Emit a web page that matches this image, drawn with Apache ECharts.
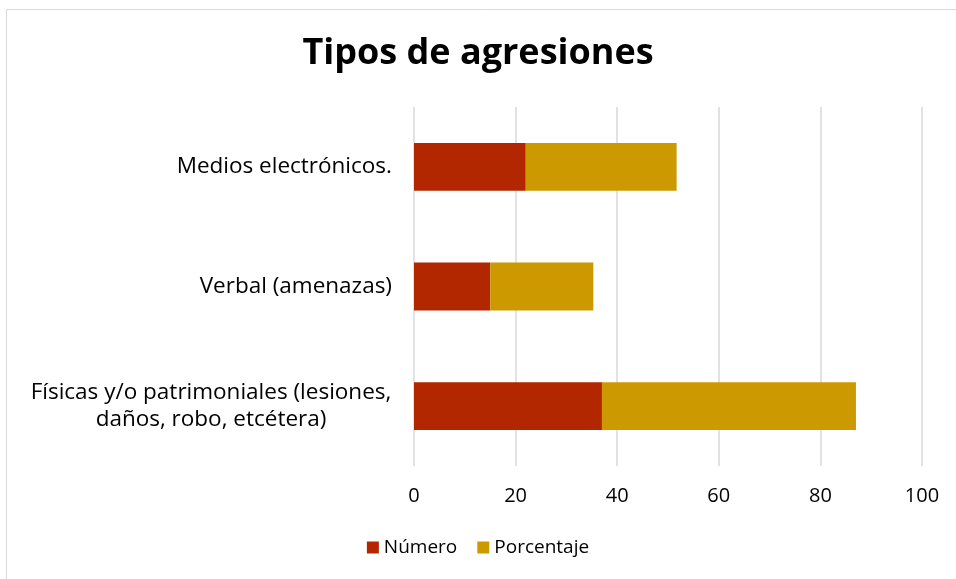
<!DOCTYPE html>
<html>
<head>
<meta charset="utf-8">
<script src="https://cdn.jsdelivr.net/npm/echarts@6/dist/echarts.min.js"></script>
<style>
  html, body { margin: 0; padding: 0; background: #fff; }
  #chart { width: 956px; height: 579px; }
</style>
</head>
<body>
<div id="chart"></div>
<script>
// categories bottom-to-top, as the value axis draws them
const categories = [
  'Físicas y/o patrimoniales (lesiones,\ndaños, robo, etcétera)',
  'Verbal (amenazas)',
  'Medios electrónicos.'
];
const numero = [37, 15, 22];
const porcentaje = [50.0, 20.3, 29.7];
const xTicks = [0, 20, 40, 60, 80, 100];

let chart = echarts.init(document.getElementById('chart'));
const font = '"Open Sans", "Noto Sans", sans-serif';
const option = {
  color: ['#B22600', '#CC9900'],
  textStyle: { fontFamily: font },
  graphic: [{
    type: 'rect',
    shape: { x: 6.5, y: 9.5, width: 960, height: 600 },
    style: { fill: 'none', stroke: '#d9d9d9', lineWidth: 1 },
    silent: true
  }],
  title: {
    text: 'Tipos de agresiones',
    left: 'center',
    top: 31,
    textStyle: { fontFamily: font, fontSize: 36, fontWeight: 'bold', color: '#000' }
  },
  legend: {
    bottom: 17,
    left: 'center',
    itemWidth: 12,
    itemHeight: 12,
    itemGap: 20,
    icon: 'rect',
    textStyle: { fontFamily: font, fontSize: 19, color: '#000' },
    data: ['Número', 'Porcentaje']
  },
  grid: { left: 414, right: 34, top: 107, bottom: 113 },
  xAxis: {
    type: 'value',
    min: xTicks[0],
    max: xTicks[xTicks.length - 1],
    interval: 20,
    axisLine: { show: false },
    axisTick: { show: false },
    axisLabel: { fontFamily: font, fontSize: 20, color: '#000', margin: 20 },
    splitLine: { lineStyle: { color: '#d9d9d9', width: 1.5 } }
  },
  yAxis: {
    type: 'category',
    data: categories,
    axisLine: { show: false },
    axisTick: { show: false },
    axisLabel: {
      fontFamily: font, fontSize: 22.5, color: '#000', margin: 22, align: 'right', lineHeight: 27,
      formatter: function (v) {
        if (v.indexOf('\n') < 0) return v;
        return v.split('\n').map(function (s) { return '{c|' + s + '}'; }).join('\n');
      },
      rich: { c: { width: 362, align: 'center', fontFamily: font, fontSize: 22.5, lineHeight: 27, color: '#000' } }
    }
  },
  series: [
    { name: 'Número', type: 'bar', stack: 'total', barWidth: '40%', data: numero },
    { name: 'Porcentaje', type: 'bar', stack: 'total', barWidth: '40%', data: porcentaje }
  ]
};
chart.setOption(option);
</script>
</body>
</html>
